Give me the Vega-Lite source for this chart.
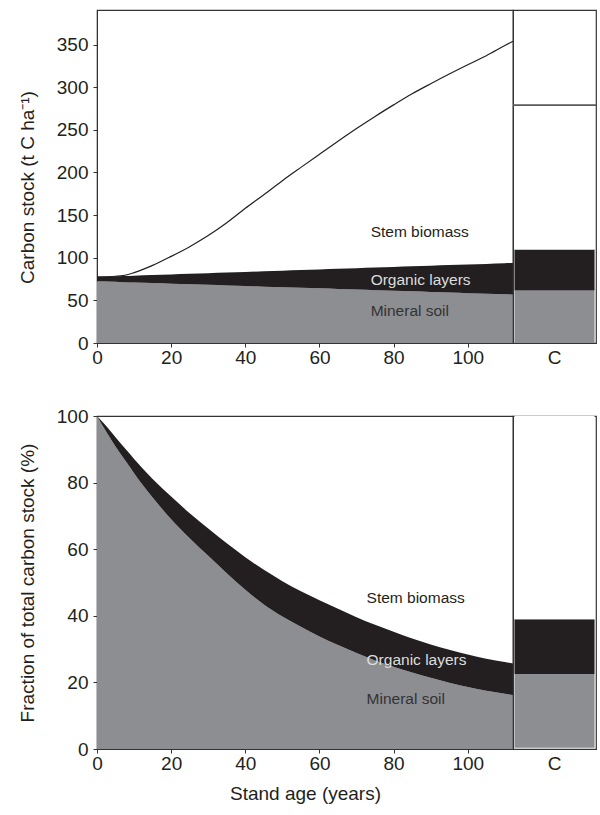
{
  "$schema": "https://vega.github.io/schema/vega-lite/v6.json",
  "padding": {"left": 17, "top": 9, "right": 2, "bottom": 0},
  "background": "white",
  "config": {
    "font": "Liberation Sans",
    "view": {"stroke": "#333333", "strokeWidth": 1.2},
    "axis": {
      "labelFont": "Liberation Sans",
      "titleFont": "Liberation Sans",
      "labelFontSize": 19,
      "titleFontSize": 19,
      "titleFontWeight": "normal",
      "labelColor": "#231f20",
      "titleColor": "#231f20",
      "domainColor": "#333333",
      "tickColor": "#333333",
      "grid": false,
      "labelFlush": false,
      "tickSize": 4
    }
  },
  "datasets": {
    "stock": [
      {"age": 0, "mineral": 72.4, "organic_top": 77.5, "total": 77.5},
      {"age": 5, "mineral": 71.7, "organic_top": 78.2, "total": 78.3},
      {"age": 7, "mineral": 71.4, "organic_top": 78.5, "total": 79},
      {"age": 10, "mineral": 71.0, "organic_top": 79.0, "total": 82.5},
      {"age": 15, "mineral": 70.3, "organic_top": 79.7, "total": 91},
      {"age": 20, "mineral": 69.6, "organic_top": 80.4, "total": 101.6},
      {"age": 25, "mineral": 68.9, "organic_top": 81.2, "total": 113},
      {"age": 30, "mineral": 68.2, "organic_top": 81.9, "total": 126},
      {"age": 35, "mineral": 67.5, "organic_top": 82.6, "total": 141},
      {"age": 40, "mineral": 66.8, "organic_top": 83.3, "total": 158},
      {"age": 45, "mineral": 66.1, "organic_top": 84.1, "total": 174},
      {"age": 50, "mineral": 65.4, "organic_top": 84.8, "total": 190.4},
      {"age": 55, "mineral": 64.8, "organic_top": 85.5, "total": 206},
      {"age": 60, "mineral": 64.1, "organic_top": 86.3, "total": 221.4},
      {"age": 65, "mineral": 63.4, "organic_top": 87.0, "total": 236.7},
      {"age": 70, "mineral": 62.7, "organic_top": 87.7, "total": 251.6},
      {"age": 75, "mineral": 62.0, "organic_top": 88.5, "total": 265.8},
      {"age": 80, "mineral": 61.3, "organic_top": 89.2, "total": 279.3},
      {"age": 85, "mineral": 60.6, "organic_top": 89.9, "total": 292.3},
      {"age": 90, "mineral": 59.9, "organic_top": 90.6, "total": 304.1},
      {"age": 95, "mineral": 59.2, "organic_top": 91.4, "total": 315.5},
      {"age": 100, "mineral": 58.5, "organic_top": 92.1, "total": 326.4},
      {"age": 105, "mineral": 57.8, "organic_top": 92.8, "total": 337},
      {"age": 110, "mineral": 57.1, "organic_top": 93.5, "total": 348.9},
      {"age": 112.2, "mineral": 56.8, "organic_top": 93.9, "total": 354}
    ],
    "fraction": [
      {"age": 0, "mineral": 100, "organic_top": 100},
      {"age": 2, "mineral": 96.2, "organic_top": 97.6},
      {"age": 4, "mineral": 92.6, "organic_top": 95.0},
      {"age": 6, "mineral": 89.2, "organic_top": 92.3},
      {"age": 8, "mineral": 86.0, "organic_top": 89.7},
      {"age": 10, "mineral": 82.8, "organic_top": 87.1},
      {"age": 15, "mineral": 75.5, "organic_top": 81.1},
      {"age": 20, "mineral": 69.0, "organic_top": 75.8},
      {"age": 25, "mineral": 63.3, "organic_top": 70.8},
      {"age": 30, "mineral": 58.0, "organic_top": 66.2},
      {"age": 35, "mineral": 52.8, "organic_top": 61.8},
      {"age": 40, "mineral": 47.8, "organic_top": 57.6},
      {"age": 45, "mineral": 43.4, "organic_top": 53.8},
      {"age": 50, "mineral": 39.8, "organic_top": 50.4},
      {"age": 55, "mineral": 36.7, "organic_top": 47.4},
      {"age": 60, "mineral": 33.8, "organic_top": 44.7},
      {"age": 65, "mineral": 31.2, "organic_top": 42.1},
      {"age": 70, "mineral": 28.8, "organic_top": 39.6},
      {"age": 75, "mineral": 26.6, "organic_top": 37.3},
      {"age": 80, "mineral": 24.7, "organic_top": 35.2},
      {"age": 85, "mineral": 23.0, "organic_top": 33.2},
      {"age": 90, "mineral": 21.4, "organic_top": 31.4},
      {"age": 95, "mineral": 19.9, "organic_top": 29.8},
      {"age": 100, "mineral": 18.6, "organic_top": 28.4},
      {"age": 105, "mineral": 17.5, "organic_top": 27.1},
      {"age": 110, "mineral": 16.6, "organic_top": 26.1},
      {"age": 112.2, "mineral": 16.2, "organic_top": 25.7}
    ],
    "labels_top": [
      {"age": 73.8, "value": 130, "label": "Stem biomass"},
      {"age": 73.8, "value": 74.4, "label": "Organic layers"},
      {"age": 73.8, "value": 38, "label": "Mineral soil"}
    ],
    "labels_bottom": [
      {"age": 72.7, "value": 45.2, "label": "Stem biomass"},
      {"age": 72.7, "value": 26.7, "label": "Organic layers"},
      {"age": 72.7, "value": 15.0, "label": "Mineral soil"}
    ],
    "c_top": [
      {"col": "C", "component": "Mineral soil", "lo": 0, "hi": 61.5},
      {"col": "C", "component": "Organic layers", "lo": 61.5, "hi": 109.6},
      {"col": "C", "component": "Stem biomass", "lo": 109.6, "hi": 279}
    ],
    "c_bottom": [
      {"col": "C", "component": "Mineral soil", "lo": 0.4, "hi": 22.5},
      {"col": "C", "component": "Organic layers", "lo": 22.5, "hi": 39.0},
      {"col": "C", "component": "Stem biomass", "lo": 39.0, "hi": 100}
    ]
  },
  "resolve": {"scale": {"color": "independent"}},
  "spacing": 38,
  "vconcat": [
    {
      "spacing": 0,
      "bounds": "flush",
      "resolve": {"scale": {"color": "independent"}},
      "hconcat": [
        {
          "width": 416,
          "height": 333,
          "layer": [
            {
              "data": {"name": "stock"},
              "mark": {"type": "area", "color": "#8d8e92", "interpolate": "monotone"},
              "encoding": {
                "x": {"field": "age", "type": "quantitative", "scale": {"domain": [0, 112.2], "nice": false, "zero": false}, "axis": {"values": [0, 20, 40, 60, 80, 100], "title": null, "labelPadding": 1, "labelFlush": false}},
                "y": {"field": "mineral", "type": "quantitative", "scale": {"domain": [0, 390.6], "nice": false}, "axis": {"values": [0, 50, 100, 150, 200, 250, 300, 350], "title": "Carbon stock (t C ha⁻¹)", "labelPadding": 5, "minExtent": 41, "maxExtent": 41, "titlePadding": 19, "titleY": 177}}
              }
            },
            {
              "data": {"name": "stock"},
              "mark": {"type": "area", "color": "#231f20", "interpolate": "monotone"},
              "encoding": {
                "x": {"field": "age", "type": "quantitative"},
                "y": {"field": "mineral", "type": "quantitative", "title": "Carbon stock (t C ha⁻¹)"},
                "y2": {"field": "organic_top"}
              }
            },
            {
              "data": {"name": "stock"},
              "mark": {"type": "line", "color": "#231f20", "strokeWidth": 1.2, "interpolate": "monotone"},
              "encoding": {
                "x": {"field": "age", "type": "quantitative"},
                "y": {"field": "total", "type": "quantitative", "title": "Carbon stock (t C ha⁻¹)"}
              }
            },
            {
              "data": {"name": "labels_top"},
              "mark": {"type": "text", "align": "left", "baseline": "middle", "fontSize": 15.5, "font": "Liberation Sans"},
              "encoding": {
                "x": {"field": "age", "type": "quantitative"},
                "y": {"field": "value", "type": "quantitative", "title": "Carbon stock (t C ha⁻¹)"},
                "text": {"field": "label"},
                "color": {"field": "label", "type": "nominal", "scale": {"domain": ["Stem biomass", "Organic layers", "Mineral soil"], "range": ["#231f20", "#dddddd", "#333333"]}, "legend": null}
              }
            }
          ]
        },
        {
          "width": 83,
          "height": 333,
          "layer": [
            {
              "data": {"name": "c_top"},
              "mark": {"type": "bar", "strokeWidth": 0},
              "encoding": {
                "x": {"field": "col", "type": "nominal", "scale": {"paddingInner": 0, "paddingOuter": 0.018}, "axis": {"title": null, "ticks": false, "labelAngle": 0, "labelPadding": 5}},
                "y": {"field": "lo", "type": "quantitative", "scale": {"domain": [0, 390.6], "nice": false}, "axis": null},
                "y2": {"field": "hi"},
                "color": {"field": "component", "type": "nominal", "scale": {"domain": ["Mineral soil", "Organic layers", "Stem biomass"], "range": ["#8d8e92", "#231f20", "#ffffff"]}, "legend": null}
              }
            },
            {
              "data": {"name": "c_top"},
              "transform": [{"filter": "datum.component === 'Stem biomass'"}],
              "mark": {"type": "rule", "color": "#5a5a5a", "strokeWidth": 1.8},
              "encoding": {
                "y": {"field": "hi", "type": "quantitative"}
              }
            }
          ]
        }
      ]
    },
    {
      "spacing": 0,
      "bounds": "flush",
      "resolve": {"scale": {"color": "independent"}},
      "hconcat": [
        {
          "width": 416,
          "height": 333,
          "layer": [
            {
              "data": {"name": "fraction"},
              "mark": {"type": "area", "color": "#8d8e92", "interpolate": "monotone"},
              "encoding": {
                "x": {"field": "age", "type": "quantitative", "scale": {"domain": [0, 112.2], "nice": false, "zero": false}, "axis": {"values": [0, 20, 40, 60, 80, 100], "title": "Stand age (years)", "labelPadding": 1, "titlePadding": 11, "labelFlush": false}},
                "y": {"field": "mineral", "type": "quantitative", "scale": {"domain": [0, 100], "nice": false}, "axis": {"values": [0, 20, 40, 60, 80, 100], "title": "Fraction of total carbon stock (%)", "labelPadding": 5, "minExtent": 41, "maxExtent": 41, "titlePadding": 19}}
              }
            },
            {
              "data": {"name": "fraction"},
              "mark": {"type": "area", "color": "#231f20", "interpolate": "monotone"},
              "encoding": {
                "x": {"field": "age", "type": "quantitative", "title": "Stand age (years)"},
                "y": {"field": "mineral", "type": "quantitative", "title": "Fraction of total carbon stock (%)"},
                "y2": {"field": "organic_top"}
              }
            },
            {
              "data": {"name": "labels_bottom"},
              "mark": {"type": "text", "align": "left", "baseline": "middle", "fontSize": 15.5, "font": "Liberation Sans"},
              "encoding": {
                "x": {"field": "age", "type": "quantitative", "title": "Stand age (years)"},
                "y": {"field": "value", "type": "quantitative", "title": "Fraction of total carbon stock (%)"},
                "text": {"field": "label"},
                "color": {"field": "label", "type": "nominal", "scale": {"domain": ["Stem biomass", "Organic layers", "Mineral soil"], "range": ["#231f20", "#dddddd", "#333333"]}, "legend": null}
              }
            }
          ]
        },
        {
          "width": 83,
          "height": 333,
          "layer": [
            {
              "data": {"name": "c_bottom"},
              "mark": {"type": "bar", "strokeWidth": 0},
              "encoding": {
                "x": {"field": "col", "type": "nominal", "scale": {"paddingInner": 0, "paddingOuter": 0.018}, "axis": {"title": null, "ticks": false, "labelAngle": 0, "labelPadding": 5}},
                "y": {"field": "lo", "type": "quantitative", "scale": {"domain": [0, 100], "nice": false}, "axis": null},
                "y2": {"field": "hi"},
                "color": {"field": "component", "type": "nominal", "scale": {"domain": ["Mineral soil", "Organic layers", "Stem biomass"], "range": ["#8d8e92", "#231f20", "#ffffff"]}, "legend": null}
              }
            }
          ]
        }
      ]
    }
  ]
}
